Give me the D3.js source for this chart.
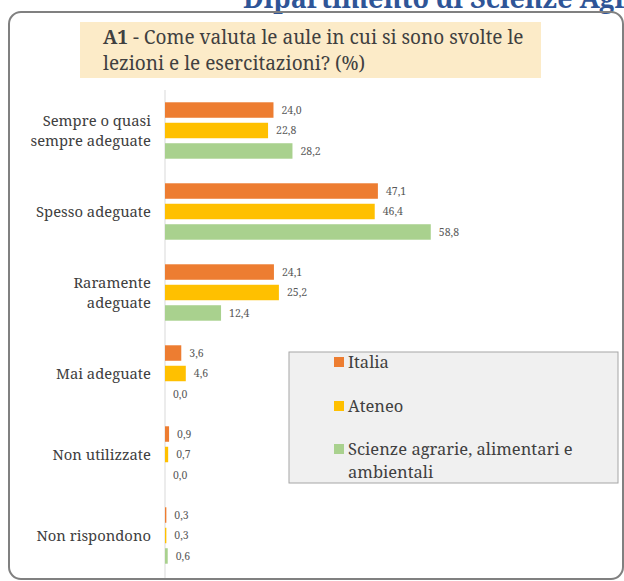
<!DOCTYPE html>
<html>
<head>
<meta charset="utf-8">
<script src="https://cdn.jsdelivr.net/npm/d3@7/dist/d3.min.js"></script>
<style>
  html, body { margin: 0; padding: 0; background: #ffffff; }
  svg { display: block; }
</style>
</head>
<body>
<script>
// Response categories (y axis), one entry per line break
const categories = [
  ["Sempre o quasi", "sempre adeguate"],
  ["Spesso adeguate"],
  ["Raramente", "adeguate"],
  ["Mai adeguate"],
  ["Non utilizzate"],
  ["Non rispondono"]
];
const seriesNames = ["Italia", "Ateneo", "Scienze agrarie, alimentari e ambientali"];
const italia  = [24.0, 47.1, 24.1, 3.6, 0.9, 0.3];
const ateneo  = [22.8, 46.4, 25.2, 4.6, 0.7, 0.3];
const scienze = [28.2, 58.8, 12.4, 0.0, 0.0, 0.6];
const colors = ["#ED7D31", "#FFC000", "#A9D18E"];

const W = 624, H = 581;
const serif = "Noto Serif, Liberation Serif, serif";

const svg = d3.select("body").append("svg")
  .attr("width", W).attr("height", H);

// Department heading, partly above the page edge
svg.append("text")
  .attr("x", 243).attr("y", 8)
  .style("font-family", serif).style("font-weight", "bold")
  .style("font-size", "27px").attr("fill", "#2F5597")
  .text("Dipartimento di Scienze Agrarie");

// Rounded frame around the chart
svg.append("rect")
  .attr("x", 9).attr("y", 12).attr("width", 614).attr("height", 567)
  .attr("rx", 12).attr("ry", 12)
  .attr("fill", "none").attr("stroke", "#808080").attr("stroke-width", 2);

// Title block
svg.append("rect")
  .attr("x", 80).attr("y", 22).attr("width", 461).attr("height", 56)
  .attr("fill", "#FCEBC8");
const title = svg.append("text")
  .style("font-family", serif).style("font-size", "19px").attr("fill", "#404040");
const t1 = title.append("tspan").attr("x", 103).attr("y", 44);
t1.append("tspan").style("font-weight", "bold").text("A1");
t1.append("tspan").text(" - Come valuta le aule in cui si sono svolte le");
title.append("tspan").attr("x", 103).attr("y", 70)
  .text("lezioni e le esercitazioni? (%)");

// Scales
const data = categories.map((c, i) => ({
  label: c,
  values: [italia[i], ateneo[i], scienze[i]]
}));
const y = d3.scaleBand().domain(d3.range(categories.length)).range([90, 576]);
const yInner = d3.scaleBand().domain(d3.range(seriesNames.length))
  .range([0, y.bandwidth()]).paddingInner(0.244).paddingOuter(0.6);
const x = d3.scaleLinear().domain([0, 60]).range([165, 165 + 60 * 4.52]);

// Category axis line
svg.append("line")
  .attr("x1", x(0)).attr("x2", x(0)).attr("y1", 90).attr("y2", 578)
  .attr("stroke", "#D9D9D9").attr("stroke-width", 1);

const groups = svg.selectAll("g.cat").data(data).join("g")
  .attr("class", "cat")
  .attr("transform", (d, i) => `translate(0,${y(i)})`);

groups.selectAll("rect").data(d => d.values).join("rect")
  .attr("x", x(0))
  .attr("y", (v, j) => yInner(j))
  .attr("width", v => x(v) - x(0))
  .attr("height", yInner.bandwidth())
  .attr("fill", (v, j) => colors[j]);

groups.selectAll("text.val").data(d => d.values).join("text")
  .attr("class", "val")
  .attr("x", v => x(v) + 8)
  .attr("y", (v, j) => yInner(j) + yInner.bandwidth() / 2)
  .attr("dy", "0.35em")
  .style("font-family", serif).style("font-size", "10.5px").attr("fill", "#595959")
  .text(v => d3.format(".1f")(v).replace(".", ","));

// Category labels
groups.each(function (d) {
  const g = d3.select(this);
  const n = d.label.length, lh = 20;
  const t = g.append("text")
    .attr("text-anchor", "end")
    .style("font-family", serif).style("font-size", "14.8px").attr("fill", "#404040");
  d.label.forEach((line, k) => {
    t.append("tspan")
      .attr("x", 151)
      .attr("y", y.bandwidth() / 2 + (k - (n - 1) / 2) * lh)
      .attr("dy", "0.35em")
      .text(line);
  });
});

// Legend
const legend = svg.append("g");
legend.append("rect")
  .attr("x", 289).attr("y", 352).attr("width", 329).attr("height", 131)
  .attr("fill", "#F0F0F0").attr("stroke", "#A6A6A6").attr("stroke-width", 1);
const legendLines = [["Italia"], ["Ateneo"], ["Scienze agrarie, alimentari e", "ambientali"]];
const legendY = [362, 406, 449];
legendLines.forEach((lines, j) => {
  legend.append("rect")
    .attr("x", 334).attr("y", legendY[j] - 5).attr("width", 10).attr("height", 10)
    .attr("fill", colors[j]);
  const t = legend.append("text")
    .style("font-family", serif).style("font-size", "16.5px").attr("fill", "#404040");
  lines.forEach((line, k) => {
    t.append("tspan").attr("x", 348).attr("y", legendY[j] + k * 23)
      .attr("dy", "0.35em").text(line);
  });
});
</script>
</body>
</html>
